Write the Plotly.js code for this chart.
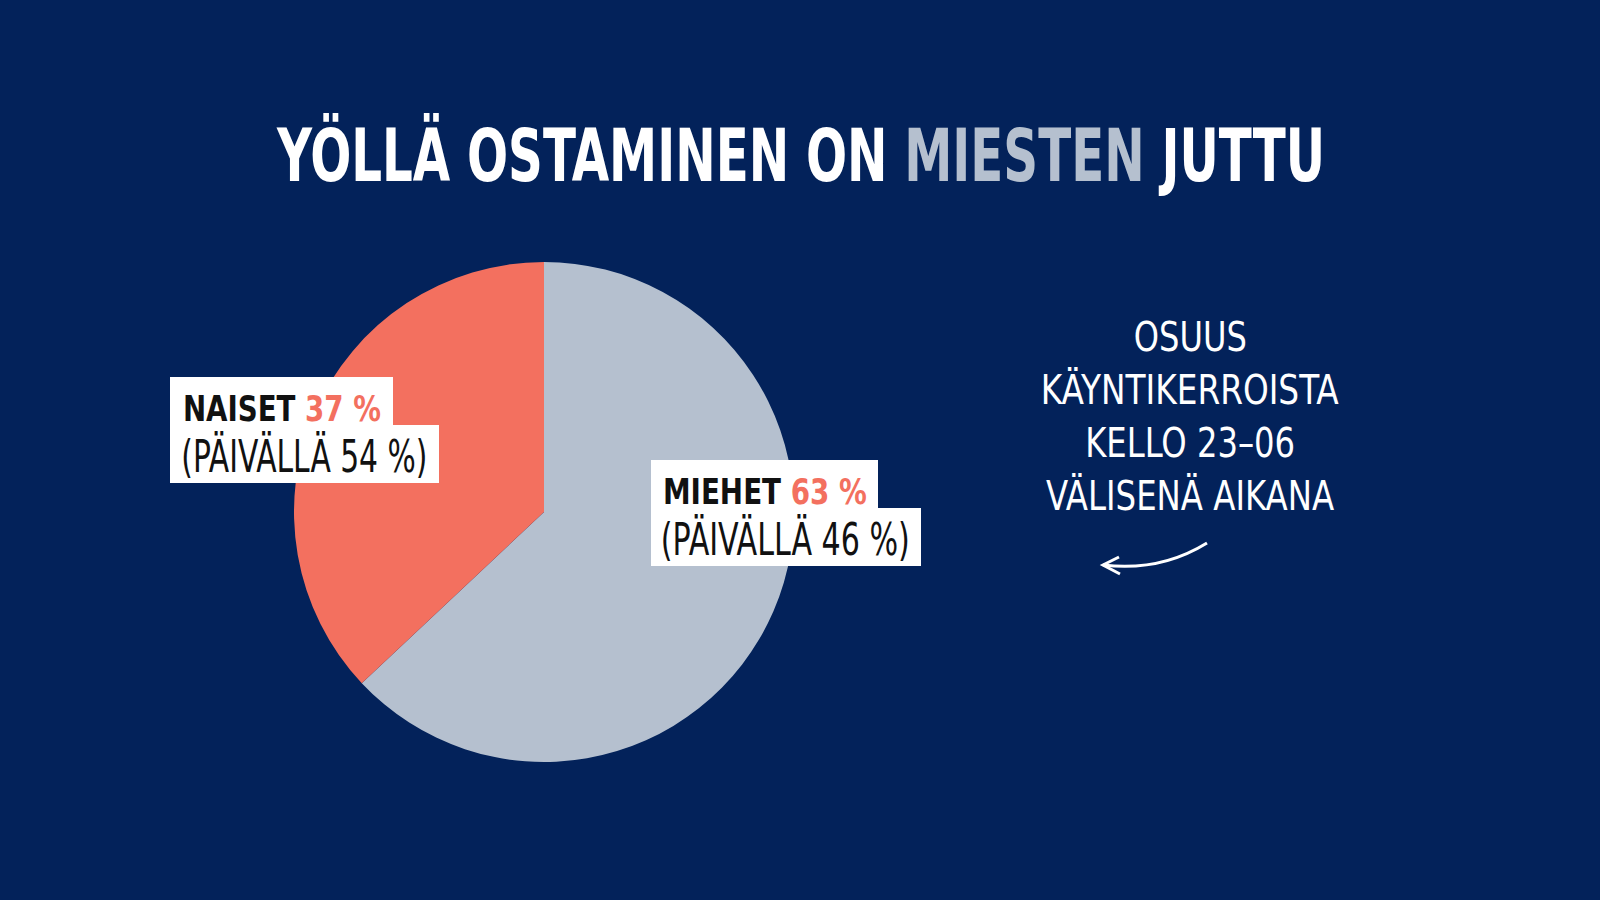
<!DOCTYPE html>
<html>
<head>
<meta charset="utf-8">
<script src="https://cdn.plot.ly/plotly-3.0.1.min.js"></script>
<style>
  html, body { margin: 0; padding: 0; background: #03225a; }
  #chart { width: 1600px; height: 900px; }
  .annotation-text { font-stretch: condensed; }
</style>
</head>
<body>
<div id="chart"></div>
<script>
// Data (drawn clockwise from 12 o'clock: MIEHET first, NAISET ends back at the top)
const groups = ['MIEHET', 'NAISET'];
const nightShare = [63, 37];   // kello 23-06
const dayShare = [46, 54];     // päivällä
const sliceColors = ['#b5c0cf', '#f3705f'];
const sideNote = ['OSUUS', 'KÄYNTIKERROISTA', 'KELLO 23–06', 'VÄLISENÄ AIKANA'];

const W = 1600, H = 900;
const NAVY = '#03225a';
const ORANGE = '#f3705f';
const GREY = '#b5c0cf';
const FONT = '"DejaVu Sans", sans-serif';

// pixel -> paper helpers
const px = x => x / W;
const py = y => 1 - y / H;

// pie placement (center 544,512 r 250)
const cx = 544, cy = 512, r = 250;

const pie = {
    type: 'pie',
    labels: groups,
    values: nightShare,
    sort: false,
    direction: 'clockwise',
    rotation: 0,
    textinfo: 'none',
    hoverinfo: 'label+percent',
    marker: { colors: sliceColors, line: { width: 0 } },
    domain: { x: [px(cx - r), px(cx + r)], y: [py(cy + r), py(cy - r)] },
    showlegend: false
};

const shapes = [];
const annotations = [];
const fitWidths = [];   // squeeze text to these widths after render (condensed look)

function addText(text, x, y, size, color, width, weight) {
    annotations.push({
        xref: 'paper', yref: 'paper', x: px(x), y: py(y),
        xanchor: 'center', yanchor: 'middle', showarrow: false,
        text: text,
        font: { family: FONT, size: size, color: color, weight: weight || 'normal' }
    });
    fitWidths.push(width);
}

function addBox(x0, x1, y0, y1) {
    shapes.push({ type: 'rect', xref: 'paper', yref: 'paper', layer: 'above',
        x0: px(x0), x1: px(x1), y0: py(y1), y1: py(y0),
        fillcolor: 'white', line: { width: 0 } });
}

// label boxes, keyed by group
const labelPos = {
    NAISET: { left: 170, top: 377, w1: 223, w2: 269, tx: 183, t1: 198, t2: 246 },
    MIEHET: { left: 651, top: 460, w1: 227, w2: 270, tx: 663, t1: 204, t2: 249 }
};

groups.forEach((g, i) => {
    const b = labelPos[g];
    addBox(b.left, b.left + b.w1, b.top, b.top + 49);
    addBox(b.left, b.left + b.w2, b.top + 48, b.top + 106);
    addText('<b>' + g + ' <span style="color:' + ORANGE + '">' + nightShare[i] + ' %</span></b>',
        b.tx + b.t1 / 2, b.top + 31, 36, '#111', b.t1);
    addText('(PÄIVÄLLÄ ' + dayShare[i] + ' %)',
        b.tx - 2 + b.t2 / 2, b.top + 79, 45, '#111', b.t2);
});

// title
addText('<b>YÖLLÄ OSTAMINEN ON <span style="color:' + GREY + '">MIESTEN</span> JUTTU</b>',
    800, 155, 73, 'white', 1048);

// side note lines
const noteWidths = [113, 298, 210, 288];
sideNote.forEach((line, i) => {
    addText(line, 1190, 337 + i * 52.8, 40, 'white', noteWidths[i]);
});

// curved arrow
shapes.push({
    type: 'path', xref: 'paper', yref: 'paper',
    path: 'M ' + px(1207) + ' ' + py(543) + ' Q ' + px(1160) + ' ' + py(572) + ' ' + px(1103) + ' ' + py(565),
    line: { color: 'white', width: 3 }
});
shapes.push({
    type: 'path', xref: 'paper', yref: 'paper',
    path: 'M ' + px(1119) + ' ' + py(557) + ' L ' + px(1103) + ' ' + py(565) + ' L ' + px(1120) + ' ' + py(574),
    line: { color: 'white', width: 3 }
});

const layout = {
    width: W, height: H,
    margin: { t: 0, l: 0, r: 0, b: 0 },
    paper_bgcolor: NAVY,
    plot_bgcolor: NAVY,
    shapes: shapes,
    annotations: annotations,
    showlegend: false
};

Plotly.newPlot('chart', [pie], layout, { displayModeBar: false, staticPlot: true }).then(() => {
    document.querySelectorAll('#chart .annotation-text').forEach((el, i) => {
        if (fitWidths[i]) {
            el.setAttribute('textLength', fitWidths[i]);
            el.setAttribute('lengthAdjust', 'spacingAndGlyphs');
        }
    });
});
</script>
</body>
</html>
